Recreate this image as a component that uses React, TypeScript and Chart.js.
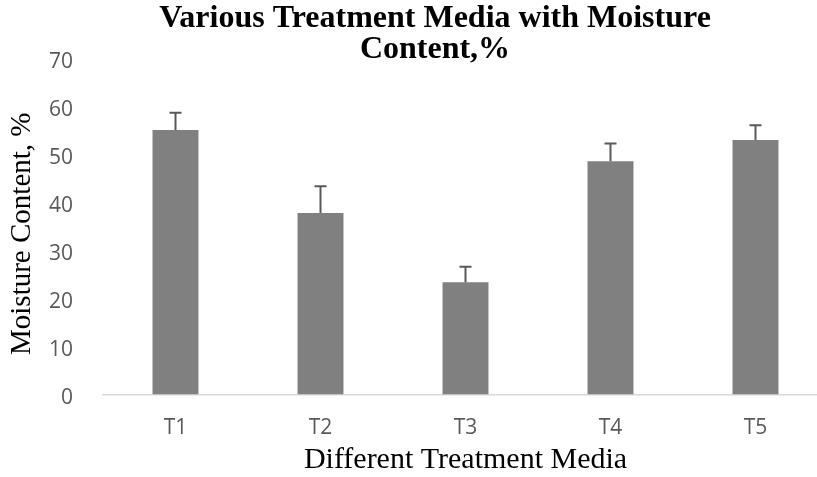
import React, { useEffect, useRef } from "react";
import { Chart, registerables } from "chart.js";

Chart.register(...registerables);

const categories = ["T1", "T2", "T3", "T4", "T5"];
const moisture = [55.1, 37.8, 23.4, 48.6, 53.0];
const moistureErr = [3.6, 5.6, 3.2, 3.7, 3.1];
const yTicks = [0, 10, 20, 30, 40, 50, 60, 70];
const titleLines = ["Various Treatment Media with Moisture", "Content,%"];
const xTitle = "Different Treatment Media";
const yTitle = "Moisture Content, %  ";

const errorBarPlugin = {
  id: "errorBars",
  afterDatasetsDraw(chart: any) {
    const { ctx } = chart;
    const xs = chart.scales.x;
    const ys = chart.scales.y;
    ctx.save();
    ctx.strokeStyle = "#595959";
    ctx.lineWidth = 2;
    moisture.forEach((v, i) => {
      const x = xs.getPixelForValue(i);
      const y0 = ys.getPixelForValue(v);
      const y1 = ys.getPixelForValue(v + moistureErr[i]);
      ctx.beginPath();
      ctx.moveTo(x, y0);
      ctx.lineTo(x, y1);
      ctx.moveTo(x - 6, y1);
      ctx.lineTo(x + 6, y1);
      ctx.stroke();
    });
    ctx.restore();
  },
};

export default function App() {
  const ref = useRef<HTMLCanvasElement | null>(null);
  useEffect(() => {
    if (!ref.current) return;
    const chart = new Chart(ref.current, {
      type: "bar",
      data: {
        labels: categories,
        datasets: [
          {
            data: moisture,
            backgroundColor: "#808080",
            borderWidth: 0,
            categoryPercentage: 1,
            barPercentage: 0.317,
          },
        ],
      },
      plugins: [errorBarPlugin],
      options: {
        responsive: false,
        animation: false,
        layout: { padding: 0 },
        plugins: {
          legend: { display: false },
          tooltip: { enabled: false },
          title: {
            display: true,
            text: titleLines,
            color: "#000000",
            font: { family: "'Liberation Serif', 'Times New Roman', serif", size: 32, weight: "bold", lineHeight: 31 / 32 },
            padding: { top: 3.7, bottom: -7.2 },
          },
        },
        scales: {
          x: {
            grid: { display: false },
            border: { display: true, color: "#d9d9d9", width: 1.5 },
            ticks: {
              color: "#595959",
              font: { family: "'Open Sans', sans-serif", size: 21 },
              padding: 13,
            },
            title: {
              display: true,
              text: xTitle,
              color: "#000000",
              font: { family: "'Liberation Serif', 'Times New Roman', serif", size: 30, lineHeight: 1 },
              padding: { top: 0, bottom: 2 },
            },
            afterFit: (s: any) => {
              s.height = 82.5;
            },
          },
          y: {
            min: 0,
            max: 70,
            afterBuildTicks: (s: any) => {
              s.ticks = yTicks.map((v) => ({ value: v }));
            },
            grid: { display: false },
            border: { display: false },
            ticks: {
              color: "#595959",
              font: { family: "'Open Sans', sans-serif", size: 21 },
              padding: 22,
              labelOffset: 3.5,
            },
            title: {
              display: true,
              text: yTitle,
              color: "#000000",
              font: { family: "'Liberation Serif', 'Times New Roman', serif", size: 29, lineHeight: 1 },
              padding: { top: 8, bottom: 0 },
            },
            afterFit: (s: any) => {
              s.width = 103;
            },
          },
          y2: {
            position: "right",
            display: true,
            grid: { display: false },
            border: { display: false },
            ticks: { display: false },
            afterFit: (s: any) => {
              s.width = 42;
            },
          },
        },
      },
    } as any);
    return () => chart.destroy();
  }, []);
  return (
    <div style={{ position: "fixed", left: 0, top: 0, width: 817, height: 477, overflow: "hidden", background: "#fff" }}>
      <canvas ref={ref} width={870} height={477} style={{ display: "block" }} />
    </div>
  );
}
